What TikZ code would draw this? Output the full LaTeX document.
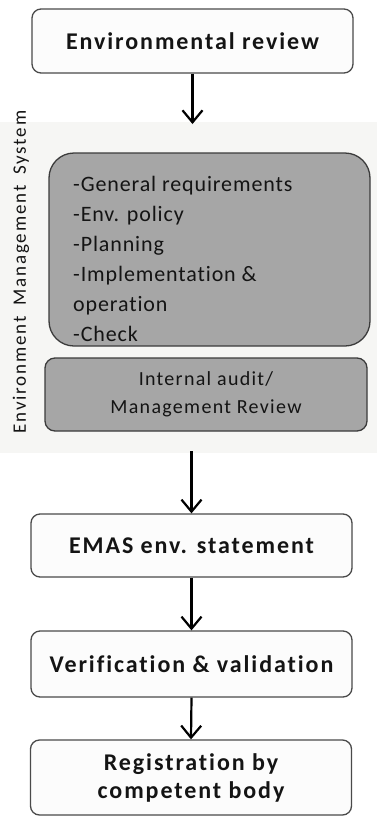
\documentclass[tikz,border=0pt]{standalone}
\usepackage{fontspec}
\setmainfont{Carlito}[Ligatures={NoCommon,NoContextual}]
\newfontfamily\headfont{Carlito}[Ligatures={NoCommon,NoContextual},
  BoldFont={Carlito Bold}, LetterSpace=8]
\newfontfamily\listfont{Carlito}[Ligatures={NoCommon,NoContextual}, LetterSpace=4]
\newfontfamily\auditfont{Carlito}[Ligatures={NoCommon,NoContextual}, LetterSpace=6.5]
\newfontfamily\sidefont{Carlito}[Ligatures={NoCommon,NoContextual},
  LetterSpace=9.5, WordSpace=1.8]
\usetikzlibrary{arrows.meta}

\definecolor{edgegray}{HTML}{4A4A4A}
\definecolor{boxfill}{HTML}{FCFCFC}
\definecolor{panelfill}{HTML}{F6F6F4}
\definecolor{stagefill}{HTML}{A6A6A6}
\definecolor{inkgray}{HTML}{141414}

\tikzset{
  stepbox/.style={draw=edgegray, line width=1.3pt, fill=boxfill,
    rounded corners=9pt, minimum width=321pt, inner sep=0pt,
    align=center, text=inkgray,
    font=\headfont\bfseries\fontsize{24}{28}\selectfont},
  stagebox/.style={draw=edgegray!80!black, line width=1.3pt, fill=stagefill,
    inner sep=0pt, text=inkgray},
  flow/.style={draw=black, line width=2.2pt,
    -{Straight Barb[length=12pt,width=20pt]}},
}

\begin{document}
\begin{tikzpicture}[x=1pt,y=-1pt]
  \useasboundingbox (0,0) rectangle (377,817);
  \fill[white] (0,0) rectangle (377,817);

  % EMS panel behind the two grey stages
  \node[fill=panelfill, minimum width=377pt, minimum height=331pt,
        inner sep=0pt, anchor=north west] (panel) at (0,122) {};
  \node[rotate=90, text=inkgray, font=\sidefont\fontsize{19}{20}\selectfont]
       (emslabel) at (21,272) {Environment Management System};

  % main flow boxes
  \node[stepbox, minimum height=64pt] (review) at (192.5,41) {Environmental review};

  \node[stagebox, rounded corners=25pt, minimum width=321pt, minimum height=193pt]
       (stages) at (209.5,249.5) {};
  \node[anchor=north west, align=left, inner sep=0pt, text=inkgray,
        font=\listfont\fontsize{22}{30}\selectfont] (stagelist) at (73,176)
       {-General requirements\\-Env. policy\\-Planning\\-Implementation \&\\operation\\-Check};

  \node[stagebox, rounded corners=10pt, minimum width=322pt, minimum height=73pt,
        align=center, font=\auditfont\fontsize{20}{28}\selectfont]
       (audit) at (206,394.5) {Internal audit/\\Management Review};

  \node[stepbox, minimum height=63pt] (statement) at (191.5,545.5) {EMAS env. statement};
  \node[stepbox, minimum height=66pt] (verify) at (191.5,664) {Verification \& validation};
  \node[stepbox, minimum height=75pt] (register) at (191,777.5) {Registration by\\competent body};

  % connectors
  \draw[flow] (review.south) -- ([yshift=-2pt]review.south |- panel.north);
  \draw[flow] ([yshift=2pt]statement.north |- panel.south) -- (statement.north);
  \draw[flow] (statement.south) -- (verify.north);
  \draw[flow] (verify.south) -- (register.north);
\end{tikzpicture}
\end{document}
